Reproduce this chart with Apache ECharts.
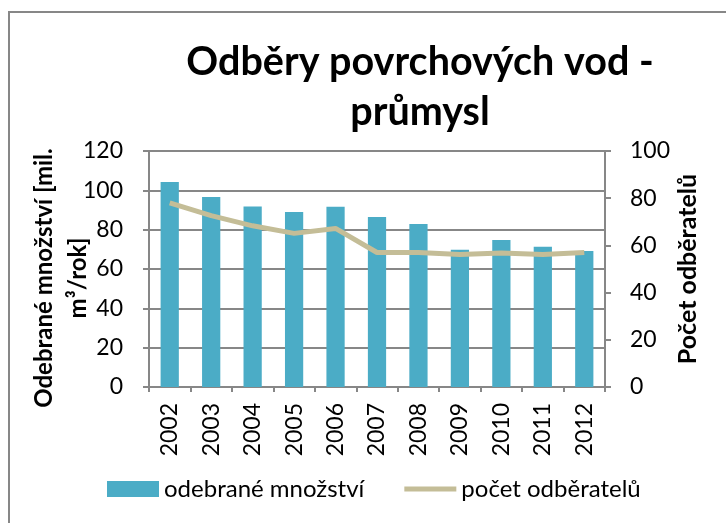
<!DOCTYPE html>
<html>
<head>
<meta charset="utf-8">
<script src="https://cdn.jsdelivr.net/npm/echarts@6/dist/echarts.min.js"></script>
<style>
  html, body { margin: 0; padding: 0; background: #fff; }
  #chart { width: 726px; height: 523px; }
</style>
</head>
<body>
<div id="chart"></div>
<script>
// roky
var years = ["2002", "2003", "2004", "2005", "2006", "2007", "2008", "2009", "2010", "2011", "2012"];
// odebrané množství [mil. m3/rok]
var amount = [104.2, 96.6, 91.8, 89.0, 91.7, 86.4, 82.9, 69.8, 74.7, 71.3, 69.1];
// počet odběratelů
var users = [78, 72.6, 68.3, 65.1, 67.2, 57, 57, 56.1, 56.8, 56.1, 57];

var font = "Lato";
var gray = "#878787";

var myChart = echarts.init(document.getElementById("chart"));
var option = {
  animation: false,
  textStyle: { fontFamily: font },
  graphic: [
    // okraj grafu (obrázek je oříznutý zprava a zdola)
    {
      type: "rect",
      shape: { x: 9, y: 12, width: 800, height: 600 },
      style: { fill: "none", stroke: gray, lineWidth: 2 },
      silent: true
    },
    {
      type: "text",
      x: 420, y: 62,
      style: {
        text: "Odběry povrchových vod -",
        font: "bold 39.5px Lato",
        fill: "#000",
        align: "center",
        verticalAlign: "middle"
      }
    },
    {
      type: "text",
      x: 420, y: 112,
      style: {
        text: "průmysl",
        font: "bold 39.5px Lato",
        fill: "#000",
        align: "center",
        verticalAlign: "middle"
      }
    }
  ],
  grid: {
    left: 149,
    right: 121,
    top: 151,
    bottom: 136
  },
  legend: {
    left: 102,
    top: 472,
    itemWidth: 52,
    itemHeight: 16,
    itemGap: 40,
    textStyle: { fontSize: 24, color: "#000", fontFamily: font },
    data: [
      { name: "odebrané množství", icon: "rect" },
      { name: "počet odběratelů", icon: "path://M0,0h52v5h-52z" }
    ]
  },
  xAxis: {
    type: "category",
    data: years,
    axisLine: { lineStyle: { color: gray, width: 2 } },
    axisTick: { show: true, length: 5, lineStyle: { color: gray, width: 2 } },
    axisLabel: {
      rotate: 90,
      margin: 16,
      fontSize: 23,
      color: "#000",
      interval: 0
    }
  },
  yAxis: [
    {
      type: "value",
      min: 0,
      max: 120,
      interval: 20,
      name: "Odebrané množství [mil.\nm³/rok]",
      nameLocation: "middle",
      nameGap: 54,
      nameMoveOverlap: false,
      nameTextStyle: {
        fontSize: 24, fontWeight: "bold", color: "#000", lineHeight: 34,
        padding: [0, 18, 0, 0]
      },
      axisLine: { show: true, lineStyle: { color: gray, width: 2 } },
      axisTick: { show: true, length: 6, lineStyle: { color: gray, width: 2 } },
      axisLabel: { fontSize: 23, color: "#000", margin: 26 },
      splitLine: { lineStyle: { color: gray, width: 2 } }
    },
    {
      type: "value",
      min: 0,
      max: 100,
      interval: 20,
      name: "Počet odběratelů",
      nameLocation: "middle",
      nameGap: 70,
      nameMoveOverlap: false,
      nameTextStyle: { fontSize: 25, fontWeight: "bold", color: "#000" },
      axisLine: { show: true, lineStyle: { color: gray, width: 2 } },
      axisTick: { show: true, length: 6, lineStyle: { color: gray, width: 2 } },
      axisLabel: { fontSize: 23, color: "#000", margin: 25 },
      splitLine: { show: false }
    }
  ],
  series: [
    {
      name: "odebrané množství",
      type: "bar",
      data: amount,
      yAxisIndex: 0,
      barWidth: "44%",
      itemStyle: { color: "#4BACC6" }
    },
    {
      name: "počet odběratelů",
      type: "line",
      data: users,
      yAxisIndex: 1,
      symbol: "none",
      lineStyle: { color: "#C4BD97", width: 5 },
      itemStyle: { color: "#C4BD97" }
    }
  ]
};
option && myChart.setOption(option);
</script>
</body>
</html>
